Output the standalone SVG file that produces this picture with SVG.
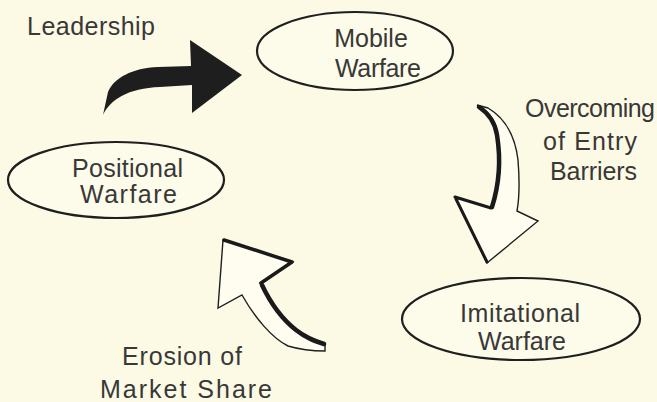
<svg xmlns="http://www.w3.org/2000/svg" width="657" height="402" viewBox="0 0 657 402">
  <style>
    .bg { fill: #fcfae4; }
    .node ellipse { fill: #fdfbe9; stroke: #1f1f1f; stroke-width: 2.2; }
    .lbl { font-family: "Liberation Sans", Arial, sans-serif; font-size: 25px; fill: #383838; }
    .hollow { fill: #fefdf0; stroke: #1f1f1f; stroke-width: 1.4; stroke-linejoin: miter; }
    .shade { fill: none; stroke: #1a1a1a; stroke-linecap: round; stroke-linejoin: round; }
    .solid { fill: #1e1e1e; }
  </style>

  <rect class="bg" x="0" y="0" width="657" height="402"/>

  <!-- curved arrows between the warfare stages -->
  <g id="connectors">
    <!-- solid arrow: Positional -> Mobile -->
    <path class="solid" d="M 103,115 C 110,100 128,88 160,87 L 192,85 L 192,113 L 242,75 L 190,40 L 191,66 L 158,67 C 132,68 114,78 108,92 Z"/>

    <!-- hollow arrow: Mobile -> Imitational -->
    <path class="hollow" d="M 477,105 L 488,108 C 505,118 515,135 518,160 C 520,185 519,200 517,211 L 538,221 L 487,263 L 455,197 L 492,208 C 500,185 502,160 498,135 C 495,120 487,110 477,105 Z"/>
    <path class="shade" stroke-width="4.5" d="M 479,107 C 488,113 495,122 497,135 C 501,160 499,185 492,207"/>
    <path class="shade" stroke-width="3" d="M 455,197 L 491,208 M 456,199 L 487,262"/>

    <!-- hollow arrow: Imitational -> Positional -->
    <path class="hollow" d="M 223,240 L 293,262 L 260,283 C 268,300 280,318 295,330 C 305,338 315,342 325,344 L 325,351 C 310,351 298,349 288,346 C 272,338 255,318 242,295 L 218,308 Z"/>
    <path class="shade" stroke-width="3.5" d="M 224,240 L 292,262 L 261,283"/>
    <path class="shade" stroke-width="4.5" d="M 262,285 C 270,302 282,319 296,330 C 306,338 315,341 324,344"/>
  </g>

  <g id="node-mobile" class="node">
    <ellipse cx="355" cy="51" rx="98" ry="39"/>
    <text class="lbl" x="371" y="47" text-anchor="middle" font-size="24">Mobile</text>
    <text class="lbl" x="335" y="77" textLength="86">Warfare</text>
  </g>

  <g id="node-positional" class="node">
    <ellipse cx="116" cy="180" rx="108" ry="38"/>
    <text class="lbl" x="72" y="177" textLength="111">Positional</text>
    <text class="lbl" x="80" y="203" textLength="97">Warfare</text>
  </g>

  <g id="node-imitational" class="node">
    <ellipse cx="521" cy="319" rx="119" ry="41"/>
    <text class="lbl" x="460" y="322" textLength="120">Imitational</text>
    <text class="lbl" x="478" y="350" textLength="88">Warfare</text>
  </g>

  <!-- transition labels -->
  <g id="label-leadership">
    <text class="lbl" x="27" y="35" textLength="128">Leadership</text>
  </g>
  <g id="label-entry">
    <text class="lbl" x="525" y="117" textLength="130">Overcoming</text>
    <text class="lbl" x="543" y="150" textLength="94">of Entry</text>
    <text class="lbl" x="550" y="180" textLength="87">Barriers</text>
  </g>
  <g id="label-erosion">
    <text class="lbl" x="122" y="365" textLength="120">Erosion of</text>
    <text class="lbl" x="100" y="398" textLength="172">Market Share</text>
  </g>
</svg>
